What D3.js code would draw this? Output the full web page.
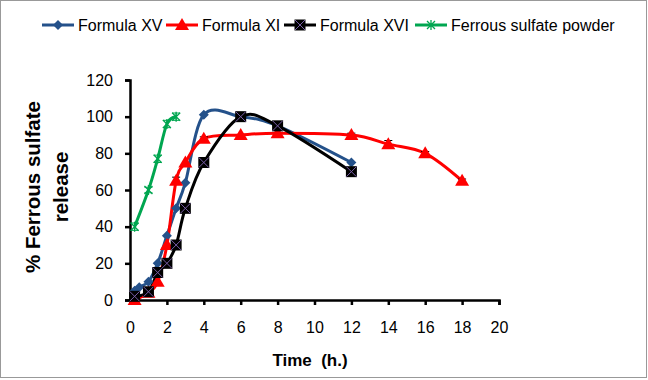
<!DOCTYPE html>
<html><head><meta charset="utf-8">
<script src="https://cdn.jsdelivr.net/npm/d3@7"></script>
<style>body{margin:0;background:#fff;}svg{display:block;font-family:"Liberation Sans",Arial,sans-serif;}</style>
</head><body>
<script>
const xTicks = [0,2,4,6,8,10,12,14,16,18,20];
const yTicks = [0,20,40,60,80,100,120];
const seriesNames = ["Formula XV","Formula XI","Formula XVI","Ferrous sulfate powder"];
const timeXV = [0.25,0.5,1,1.5,2,2.5,3,4,6,8,12];
const valXV  = [5,7,10,20,35,50,64,101,100,95,75];
const timeXI = [0.25,1,1.5,2,2.5,3,4,6,8,12,14,16,18];
const valXI  = [0,4,10,30,65,75,88,90,91,90,85,80,65];
const errXI  = [0,0,0,0,2,0,1,0,0,1,2,1,1];
const timeXVI = [0.25,1,1.5,2,2.5,3,4,6,8,12];
const valXVI  = [2,4.5,15,20,30,50,75,100,95,70];
const timePow = [0.25,1,1.5,2,2.5];
const valPow  = [40,60,77,96,100];
const errPow  = [2,1.5,2,2,2];

const W=648,H=380;
const svg=d3.select("body").append("svg").attr("width",W).attr("height",H);
svg.append("rect").attr("x",0.5).attr("y",0.5).attr("width",W-2).attr("height",H-3).attr("fill","#fff").attr("stroke","#999");

const x=d3.scaleLinear().domain([0,20]).range([130,499]);
const y=d3.scaleLinear().domain([0,120]).range([300,80]);

// axes
const xa=svg.append("g").attr("transform","translate(0,300)").call(d3.axisBottom(x).tickValues(xTicks).tickSize(5).tickPadding(17));
const ya=svg.append("g").attr("transform","translate(130,0)").call(d3.axisLeft(y).tickValues(yTicks).tickSize(5).tickPadding(12));
[xa,ya].forEach(a=>{
  a.select(".domain").attr("stroke","#000").attr("stroke-width",2.5);
  a.selectAll(".tick line").attr("stroke","#000").attr("stroke-width",2.5);
  a.selectAll(".tick text").attr("font-size",16).attr("fill","#000").attr("font-family","Liberation Sans,Arial,sans-serif");
});

const line=d3.line().x(d=>x(d[0])).y(d=>y(d[1])).curve(d3.curveCatmullRom.alpha(0));
const zip=(a,b)=>a.map((t,i)=>[t,b[i]]);

const colors={xv:"#24518a",xi:"#ff0000",xvi:"#000000",pow:"#00a650"};

function drawLine(data,color){
  svg.append("path").datum(data).attr("d",line).attr("fill","none").attr("stroke",color).attr("stroke-width",3);
}
function errBars(data,err,color){
  data.forEach((d,i)=>{ if(!err[i]) return;
    const g=svg.append("g").attr("stroke",color).attr("stroke-width",1);
    g.append("line").attr("x1",x(d[0])).attr("x2",x(d[0])).attr("y1",y(d[1]-err[i])).attr("y2",y(d[1]+err[i]));
    [d[1]-err[i],d[1]+err[i]].forEach(v=>g.append("line").attr("x1",x(d[0])-4).attr("x2",x(d[0])+4).attr("y1",y(v)).attr("y2",y(v)));
  });
}
const dXV=zip(timeXV,valXV), dXI=zip(timeXI,valXI), dXVI=zip(timeXVI,valXVI), dPow=zip(timePow,valPow);

drawLine(dPow,colors.pow); errBars(dPow,errPow,colors.pow);
drawLine(dXV,colors.xv);
drawLine(dXI,colors.xi); errBars(dXI,errXI,"#000");
drawLine(dXVI,colors.xvi);

function diamond(g,cx,cy){ g.append("path").attr("d",`M${cx},${cy-5}L${cx+5},${cy}L${cx},${cy+5}L${cx-5},${cy}Z`).attr("fill",colors.xv); }
function tri(g,cx,cy){ g.append("path").attr("d",`M${cx},${cy-7}L${cx+7},${cy+5}L${cx-7},${cy+5}Z`).attr("fill",colors.xi); }
function square(g,cx,cy){ g.append("rect").attr("x",cx-5.5).attr("y",cy-5.5).attr("width",11).attr("height",11).attr("fill","#000");
  g.append("path").attr("d",`M${cx-5},${cy-5}L${cx+5},${cy+5}M${cx+5},${cy-5}L${cx-5},${cy+5}`).attr("stroke","#7a5fa8").attr("stroke-width",1); }
function star(g,cx,cy){ g.append("path").attr("d",`M${cx-4},${cy-4}L${cx+4},${cy+4}M${cx+4},${cy-4}L${cx-4},${cy+4}M${cx},${cy-5}L${cx},${cy+5}`).attr("stroke",colors.pow).attr("stroke-width",1.3); }

const mg=svg.append("g");
dPow.forEach(d=>star(mg,x(d[0]),y(d[1])));
dXV.forEach(d=>diamond(mg,x(d[0]),y(d[1])));
dXI.forEach(d=>tri(mg,x(d[0]),y(d[1])));
dXVI.forEach(d=>square(mg,x(d[0]),y(d[1])));

// axis titles
svg.append("text").attr("x",310).attr("y",366).attr("text-anchor","middle").attr("font-size",17).attr("font-weight","bold").style("white-space","pre").text("Time  (h.)");
const yt=svg.append("text").attr("transform","translate(40,187) rotate(-90)").attr("text-anchor","middle").attr("font-size",20.5).attr("font-weight","bold");
yt.append("tspan").attr("x",0).attr("dy",0).text("% Ferrous sulfate");
yt.append("tspan").attr("x",0).attr("dy",28).text("release");

// legend
const leg=[{n:seriesNames[0],c:colors.xv,m:diamond,x:42},{n:seriesNames[1],c:colors.xi,m:tri,x:166},{n:seriesNames[2],c:colors.xvi,m:square,x:284},{n:seriesNames[3],c:colors.pow,m:star,x:415}];
leg.forEach(l=>{
  const g=svg.append("g");
  g.append("line").attr("x1",l.x).attr("x2",l.x+32).attr("y1",25).attr("y2",25).attr("stroke",l.c).attr("stroke-width",3);
  l.m(g,l.x+16,25);
  g.append("text").attr("x",l.x+36).attr("y",31).attr("font-size",16).attr("fill","#000").text(l.n);
});
</script>
</body></html>
